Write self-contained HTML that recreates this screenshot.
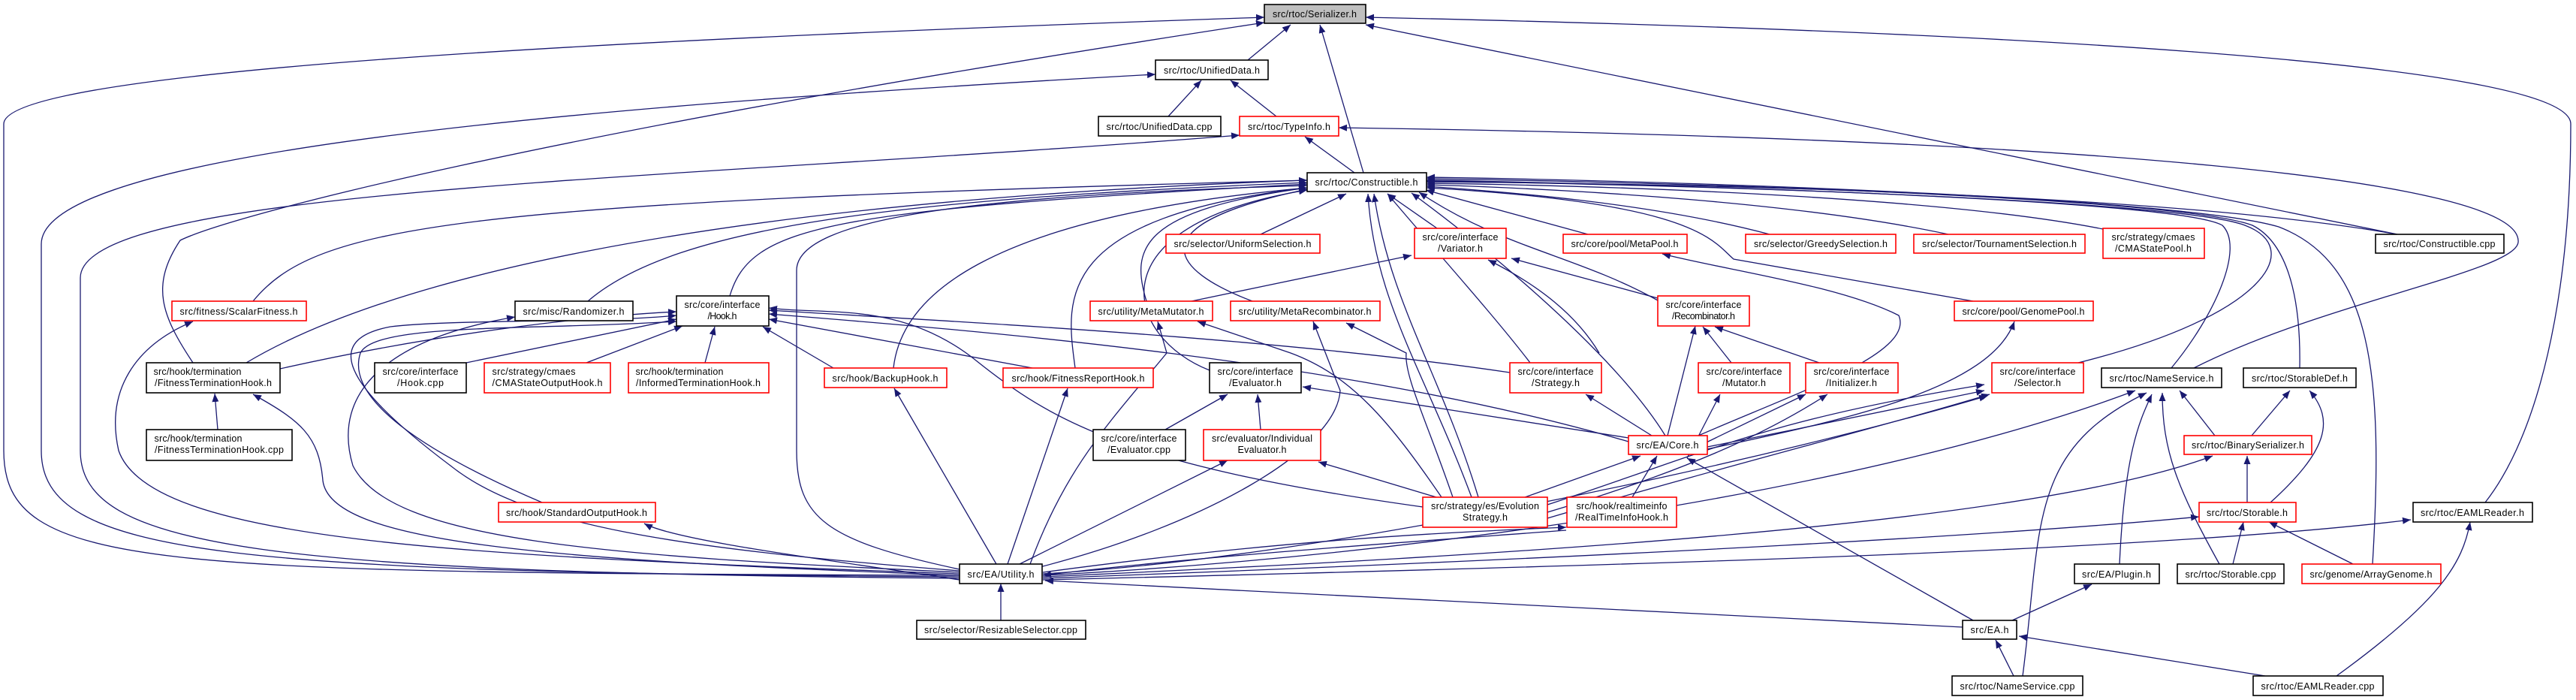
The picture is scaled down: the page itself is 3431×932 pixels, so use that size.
<!DOCTYPE html>
<html><head><meta charset="utf-8"><style>
html,body{margin:0;padding:0;background:#fff;}
svg{display:block;}
text{font-family:"Liberation Sans",Arial,sans-serif;font-size:12.5px;fill:#000;text-anchor:middle;}
.e{fill:none;stroke:#191970;stroke-width:1.3;}
.b{fill:#fff;stroke:#000;stroke-width:1.6;}
.r{fill:#fff;stroke:#ff0000;stroke-width:1.6;}
</style></head><body>
<svg width="3431" height="932" viewBox="0 0 3431 932" xmlns="http://www.w3.org/2000/svg">
<defs><marker id="a" markerUnits="userSpaceOnUse" markerWidth="12" markerHeight="10" refX="11" refY="4.5" orient="auto"><path d="M0,0 L11,4.5 L0,9 z" fill="#191970"/></marker></defs>
<g class="e" marker-end="url(#a)">
<path d="M1278,766 C200,762 5,760 5,600 L5,165 C5,90 900,50 1684,23"/>
<path d="M1662,80 L1719,33"/>
<path d="M1816,230 L1758,33"/>
<path d="M257,483 C215,420 200,380 240,320 C300,290 700,180 1684,30"/>
<path d="M3193,312 L1819,33"/>
<path d="M3310,669 C3380,580 3424,400 3424,165 C3424,80 2600,40 1819,23"/>
<path d="M1278,768 C300,762 55,740 55,600 L55,325 C55,200 800,140 1539,99"/>
<path d="M1556,155 L1600,107"/>
<path d="M1700,155 L1639,107"/>
<path d="M1278,770 C350,762 107,730 107,600 L107,370 C107,250 900,240 1651,180"/>
<path d="M1804,230 L1738,182"/>
<path d="M2922,490 C3100,400 3360,360 3354,320 C3350,240 2800,185 1783,170"/>
<path d="M328,483 C500,380 900,270 1741,240"/>
<path d="M337,401 C420,300 600,270 1741,240"/>
<path d="M783,401 C900,300 1200,265 1741,243"/>
<path d="M972,394 C1000,300 1100,280 1741,245"/>
<path d="M1278,758 C1100,720 1061,690 1061,600 L1061,360 C1061,290 1300,260 1741,247"/>
<path d="M1679,312 L1793,258"/>
<path d="M1914,304 L1848,258"/>
<path d="M2115,312 L1899,253"/>
<path d="M1960,662 C1900,500 1830,400 1822,258"/>
<path d="M1969,662 C1920,500 1850,400 1830,258"/>
<path d="M1527,401 C1505,330 1520,280 1741,250"/>
<path d="M1668,401 C1560,360 1510,300 1741,252"/>
<path d="M1611,493 C1500,450 1450,300 1741,253"/>
<path d="M1190,490 C1200,400 1300,290 1741,250"/>
<path d="M1432,490 C1420,400 1400,290 1741,250"/>
<path d="M2038,483 C1990,420 1900,320 1848,258"/>
<path d="M2208,400 C2100,340 2000,330 1890,256"/>
<path d="M2357,312 C2200,270 2000,255 1900,248"/>
<path d="M2595,312 C2400,270 2100,252 1900,246"/>
<path d="M2801,305 C2600,265 2200,248 1900,244"/>
<path d="M3193,312 C2900,260 2300,245 1900,242"/>
<path d="M2628,401 L2309,345 C2280,320 2260,270 1900,250"/>
<path d="M2768,483 C3020,420 3070,330 2990,300 C2900,265 2200,245 1900,241"/>
<path d="M2892,490 C2950,420 2990,330 2960,300 C2900,265 2200,245 1900,240"/>
<path d="M3063,490 C3065,380 3040,320 3000,300 C2900,262 2200,242 1900,238"/>
<path d="M3160,751 C3175,500 3160,350 3035,302 C2900,262 2200,240 1900,236"/>
<path d="M2218,580 C2150,470 1980,330 1880,257"/>
<path d="M373,491 C600,440 800,420 901,415"/>
<path d="M621,483 L901,425"/>
<path d="M781,483 L909,434"/>
<path d="M939,483 L952,435"/>
<path d="M1110,490 L1016,435"/>
<path d="M1375,490 L1024,425"/>
<path d="M722,669 C560,600 460,530 480,470 C500,430 700,440 901,428"/>
<path d="M1278,760 C900,730 700,700 600,620 C440,500 440,450 520,435 C600,425 800,430 901,420"/>
<path d="M2169,588 C1800,480 1300,440 1024,418"/>
<path d="M2011,496 C1700,450 1300,430 1024,413"/>
<path d="M1895,675 C1500,620 1400,560 1300,480 C1200,400 1100,420 1024,410"/>
<path d="M1278,762 C800,740 520,720 470,620 C440,520 520,450 686,422"/>
<path d="M1278,764 C600,740 200,720 158,600 C140,520 180,460 257,428"/>
<path d="M290,572 L286,524"/>
<path d="M1278,766 C700,745 440,720 430,640 C425,580 400,560 337,525"/>
<path d="M1327,751 L1191,517"/>
<path d="M1342,751 L1422,517"/>
<path d="M1358,751 L1635,613"/>
<path d="M1372,751 C1420,620 1480,560 1554,470 L1542,428"/>
<path d="M1385,755 C1600,700 1780,600 1785,520 L1749,428"/>
<path d="M1278,772 C1100,745 900,720 858,697"/>
<path d="M1389,762 C1700,720 1900,710 2086,702"/>
<path d="M2086,706 C1900,720 1600,740 1389,766"/>
<path d="M1389,764 C1800,740 2400,600 2647,527"/>
<path d="M1389,766 C1900,740 2500,650 2844,520"/>
<path d="M1389,768 C2000,740 2700,700 2947,607"/>
<path d="M1389,770 C2200,740 2700,710 2929,688"/>
<path d="M1389,772 C2300,750 2900,730 3211,692"/>
<path d="M2614,835 L1392,773"/>
<path d="M1333,826 L1333,777"/>
<path d="M1913,662 L1756,615"/>
<path d="M1552,572 L1635,525"/>
<path d="M1679,572 L1675,525"/>
<path d="M2169,583 L1735,515"/>
<path d="M2200,580 L2112,525"/>
<path d="M2031,662 L2185,607"/>
<path d="M2174,662 L2207,607"/>
<path d="M1920,662 C1850,560 1800,500 1719,470 L1595,428"/>
<path d="M1935,662 C1900,560 1870,500 1873,470 L1793,430"/>
<path d="M2130,470 C2100,420 2050,380 1982,346"/>
<path d="M2208,397 L2013,344"/>
<path d="M1587,401 L1880,340"/>
<path d="M2262,580 C2400,520 2550,470 2529,420 C2450,380 2300,360 2214,338"/>
<path d="M2221,580 L2258,434"/>
<path d="M2423,483 L2284,435"/>
<path d="M2306,483 L2268,435"/>
<path d="M2274,598 C2450,560 2650,520 2683,428"/>
<path d="M2247,610 L2291,525" />
<path d="M2250,600 L2405,525"/>
<path d="M2061,682 C2280,617 2380,560 2434,525"/>
<path d="M2274,595 C2400,570 2550,540 2643,520"/>
<path d="M2061,690 C2300,620 2500,570 2650,525"/>
<path d="M2061,672 C2280,600 2350,560 2643,512"/>
<path d="M2628,826 L2247,610"/>
<path d="M2823,751 C2830,600 2850,560 2866,525"/>
<path d="M2694,900 C2720,700 2700,600 2859,523"/>
<path d="M2956,751 C2900,650 2880,600 2880,523"/>
<path d="M2950,580 L2903,520"/>
<path d="M2999,580 L3050,520"/>
<path d="M3024,669 C3100,600 3110,560 3076,520"/>
<path d="M2993,669 L2993,607"/>
<path d="M2974,751 L2988,695"/>
<path d="M3134,751 L3022,695"/>
<path d="M2680,826 L2786,778"/>
<path d="M2682,900 L2658,852"/>
<path d="M3017,900 L2689,847"/>
<path d="M3112,900 C3250,800 3280,750 3290,695"/>
</g>
<g>
<rect class="b" x="1684" y="6" width="135" height="25" style="fill:#bfbfbf"/><text x="1751" y="23" textLength="112">src/rtoc/Serializer.h</text>
<rect class="b" x="1539" y="80" width="150" height="26"/><text x="1614" y="98" textLength="128">src/rtoc/UnifiedData.h</text>
<rect class="b" x="1463" y="155" width="163" height="26"/><text x="1544" y="173" textLength="141">src/rtoc/UnifiedData.cpp</text>
<rect class="r" x="1651" y="155" width="132" height="26"/><text x="1717" y="173" textLength="110">src/rtoc/TypeInfo.h</text>
<rect class="b" x="1741" y="230" width="159" height="25"/><text x="1820" y="247" textLength="137">src/rtoc/Constructible.h</text>
<rect class="r" x="229" y="401" width="179" height="26"/><text x="318" y="419" textLength="157">src/fitness/ScalarFitness.h</text>
<rect class="b" x="686" y="401" width="157" height="26"/><text x="764" y="419" textLength="135">src/misc/Randomizer.h</text>
<rect class="b" x="901" y="394" width="123" height="40"/><text x="962" y="410" textLength="101">src/core/interface</text><text x="962" y="425" textLength="39">/Hook.h</text>
<rect class="r" x="1553" y="312" width="205" height="25"/><text x="1655" y="329" textLength="183">src/selector/UniformSelection.h</text>
<rect class="r" x="1884" y="304" width="122" height="40"/><text x="1945" y="320" textLength="101">src/core/interface</text><text x="1945" y="335" textLength="60">/Variator.h</text>
<rect class="r" x="2082" y="312" width="165" height="25"/><text x="2164" y="329" textLength="143">src/core/pool/MetaPool.h</text>
<rect class="r" x="1452" y="401" width="163" height="26"/><text x="1533" y="419" textLength="141">src/utility/MetaMutator.h</text>
<rect class="r" x="1639" y="401" width="199" height="26"/><text x="1738" y="419" textLength="177">src/utility/MetaRecombinator.h</text>
<rect class="r" x="2208" y="394" width="122" height="40"/><text x="2269" y="410" textLength="101">src/core/interface</text><text x="2269" y="425" textLength="84">/Recombinator.h</text>
<rect class="r" x="2325" y="312" width="200" height="25"/><text x="2425" y="329" textLength="178">src/selector/GreedySelection.h</text>
<rect class="r" x="2549" y="312" width="228" height="25"/><text x="2663" y="329" textLength="206">src/selector/TournamentSelection.h</text>
<rect class="r" x="2801" y="304" width="135" height="40"/><text x="2868" y="320" textLength="111">src/strategy/cmaes</text><text x="2868" y="335" textLength="102">/CMAStatePool.h</text>
<rect class="b" x="3164" y="312" width="171" height="25"/><text x="3249" y="329" textLength="149">src/rtoc/Constructible.cpp</text>
<rect class="r" x="2603" y="401" width="185" height="26"/><text x="2695" y="419" textLength="163">src/core/pool/GenomePool.h</text>
<rect class="b" x="195" y="483" width="178" height="40"/><text x="263" y="499" textLength="117">src/hook/termination</text><text x="284" y="514" textLength="156">/FitnessTerminationHook.h</text>
<rect class="b" x="499" y="483" width="122" height="40"/><text x="560" y="499" textLength="101">src/core/interface</text><text x="560" y="514" textLength="62">/Hook.cpp</text>
<rect class="r" x="645" y="483" width="168" height="40"/><text x="711" y="499" textLength="111">src/strategy/cmaes</text><text x="729" y="514" textLength="147">/CMAStateOutputHook.h</text>
<rect class="r" x="837" y="483" width="187" height="40"/><text x="905" y="499" textLength="117">src/hook/termination</text><text x="930" y="514" textLength="166">/InformedTerminationHook.h</text>
<rect class="b" x="195" y="572" width="194" height="41"/><text x="264" y="588" textLength="117">src/hook/termination</text><text x="292" y="603" textLength="172">/FitnessTerminationHook.cpp</text>
<rect class="r" x="664" y="669" width="209" height="26"/><text x="768" y="687" textLength="188">src/hook/StandardOutputHook.h</text>
<rect class="r" x="1098" y="490" width="163" height="26"/><text x="1179" y="508" textLength="141">src/hook/BackupHook.h</text>
<rect class="r" x="1336" y="490" width="200" height="26"/><text x="1436" y="508" textLength="177">src/hook/FitnessReportHook.h</text>
<rect class="b" x="1611" y="483" width="122" height="40"/><text x="1672" y="499" textLength="101">src/core/interface</text><text x="1672" y="514" textLength="70">/Evaluator.h</text>
<rect class="r" x="2011" y="483" width="122" height="40"/><text x="2072" y="499" textLength="101">src/core/interface</text><text x="2072" y="514" textLength="64">/Strategy.h</text>
<rect class="b" x="1456" y="572" width="123" height="41"/><text x="1517" y="588" textLength="101">src/core/interface</text><text x="1517" y="603" textLength="84">/Evaluator.cpp</text>
<rect class="r" x="1603" y="572" width="156" height="41"/><text x="1681" y="588" textLength="134">src/evaluator/Individual</text><text x="1681" y="603" textLength="65">Evaluator.h</text>
<rect class="r" x="2169" y="580" width="105" height="25"/><text x="2221" y="597" textLength="83">src/EA/Core.h</text>
<rect class="r" x="1895" y="662" width="166" height="40"/><text x="1978" y="678" textLength="144">src/strategy/es/Evolution</text><text x="1978" y="693" textLength="60">Strategy.h</text>
<rect class="r" x="2087" y="662" width="146" height="40"/><text x="2160" y="678" textLength="121">src/hook/realtimeinfo</text><text x="2160" y="693" textLength="124">/RealTimeInfoHook.h</text>
<rect class="b" x="1278" y="751" width="110" height="26"/><text x="1333" y="769" textLength="89">src/EA/Utility.h</text>
<rect class="b" x="1221" y="826" width="225" height="25"/><text x="1333" y="843" textLength="204">src/selector/ResizableSelector.cpp</text>
<rect class="r" x="2262" y="483" width="122" height="40"/><text x="2323" y="499" textLength="101">src/core/interface</text><text x="2323" y="514" textLength="58">/Mutator.h</text>
<rect class="r" x="2405" y="483" width="123" height="40"/><text x="2466" y="499" textLength="101">src/core/interface</text><text x="2466" y="514" textLength="68">/Initializer.h</text>
<rect class="r" x="2653" y="483" width="122" height="40"/><text x="2714" y="499" textLength="101">src/core/interface</text><text x="2714" y="514" textLength="62">/Selector.h</text>
<rect class="b" x="2799" y="490" width="160" height="26"/><text x="2879" y="508" textLength="139">src/rtoc/NameService.h</text>
<rect class="b" x="2988" y="490" width="150" height="26"/><text x="3063" y="508" textLength="128">src/rtoc/StorableDef.h</text>
<rect class="r" x="2909" y="580" width="170" height="25"/><text x="2994" y="597" textLength="150">src/rtoc/BinarySerializer.h</text>
<rect class="r" x="2929" y="669" width="129" height="26"/><text x="2993" y="687" textLength="108">src/rtoc/Storable.h</text>
<rect class="b" x="3214" y="669" width="159" height="26"/><text x="3293" y="687" textLength="138">src/rtoc/EAMLReader.h</text>
<rect class="b" x="2763" y="751" width="113" height="26"/><text x="2819" y="769" textLength="92">src/EA/Plugin.h</text>
<rect class="b" x="2900" y="751" width="142" height="26"/><text x="2971" y="769" textLength="121">src/rtoc/Storable.cpp</text>
<rect class="r" x="3066" y="751" width="185" height="26"/><text x="3158" y="769" textLength="163">src/genome/ArrayGenome.h</text>
<rect class="b" x="2614" y="826" width="72" height="25"/><text x="2650" y="843" textLength="51">src/EA.h</text>
<rect class="b" x="2600" y="900" width="174" height="26"/><text x="2687" y="918" textLength="153">src/rtoc/NameService.cpp</text>
<rect class="b" x="3001" y="900" width="173" height="26"/><text x="3087" y="918" textLength="151">src/rtoc/EAMLReader.cpp</text>
</g>
</svg>
</body></html>
